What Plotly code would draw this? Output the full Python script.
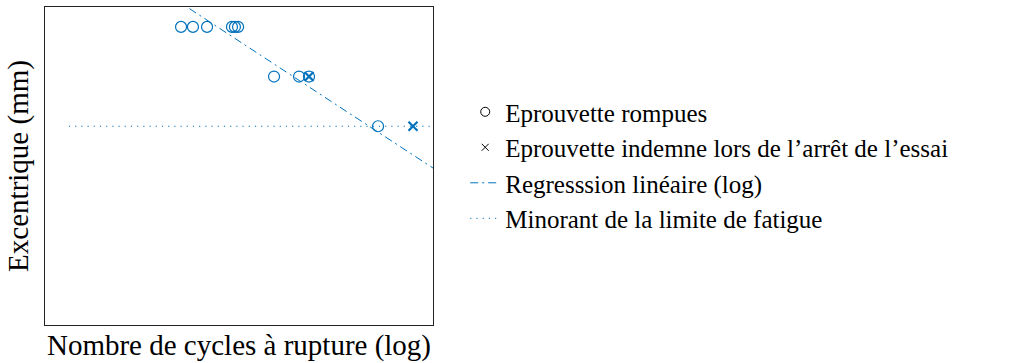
import plotly.graph_objects as go

# Fatigue test results: eccentricity vs number of cycles to failure
broken_cycles = [112700, 139300, 179000, 279000, 294000, 311000,
                 590000, 921000, 1100000, 3760000]
broken_excentrique = [3.0, 3.0, 3.0, 3.0, 3.0, 3.0,
                      2.5, 2.5, 2.5, 2.0]

runout_cycles = [1100000, 7000000]
runout_excentrique = [2.5, 2.0]

# Log-linear regression line (two end points)
reg_cycles = [100000, 15850000]
reg_excentrique = [3.283, 1.409]

# Lower bound of the fatigue limit
limit_cycles = [15300, 10000000]
limit_excentrique = [2.0, 2.0]

BLUE = "#0072BD"
FONT = "Liberation Serif, serif"
FSIZE = 24.5

fig = go.Figure()

# data markers (legend entries drawn separately in black)
fig.add_trace(go.Scatter(
    x=broken_cycles, y=broken_excentrique, mode="markers",
    showlegend=False,
    marker=dict(symbol="circle-open", size=11, color=BLUE, line=dict(width=1.2)),
))
fig.add_trace(go.Scatter(
    x=runout_cycles, y=runout_excentrique, mode="markers",
    showlegend=False,
    marker=dict(symbol="x-thin-open", size=9, color=BLUE, line=dict(width=2.2, color=BLUE)),
))

# legend entries
fig.add_trace(go.Scatter(
    x=[None], y=[None], mode="markers",
    name="Eprouvette rompues",
    marker=dict(symbol="circle-open", size=9, color="black", line=dict(width=1)),
))
fig.add_trace(go.Scatter(
    x=[None], y=[None], mode="markers",
    name="Eprouvette indemne lors de l’arrêt de l’essai",
    marker=dict(symbol="x-thin-open", size=7, color="black", line=dict(width=1, color="black")),
))
fig.add_trace(go.Scatter(
    x=reg_cycles, y=reg_excentrique, mode="lines",
    name="Regresssion linéaire (log)",
    line=dict(color=BLUE, width=1, dash="8px,4px,2px,4px"),
))
fig.add_trace(go.Scatter(
    x=limit_cycles, y=limit_excentrique, mode="lines",
    name="Minorant de la limite de fatigue",
    line=dict(color=BLUE, width=1, dash="1.2px,5px"),
))

axis_common = dict(
    showgrid=False, zeroline=False, showticklabels=False, ticks="",
    showline=True, mirror=True, linecolor="#222222", linewidth=1,
)

fig.update_layout(
    width=1022, height=363,
    margin=dict(l=45, r=589, t=7, b=38),
    plot_bgcolor="white", paper_bgcolor="white",
    font=dict(family=FONT, size=FSIZE, color="black"),
    xaxis=dict(type="log", range=[4, 7],
               title=dict(text="Nombre de cycles à rupture (log)", standoff=9),
               **axis_common),
    yaxis=dict(range=[0, 3.2],
               title=dict(text="Excentrique (mm)", standoff=6),
               **axis_common),
    legend=dict(x=1.083, y=0.503, xanchor="left", yanchor="middle",
                bgcolor="rgba(0,0,0,0)",
                font=dict(family=FONT, size=25, color="black"),
                itemwidth=30, tracegroupgap=0),
    showlegend=True,
)

fig.write_html("out.html")
